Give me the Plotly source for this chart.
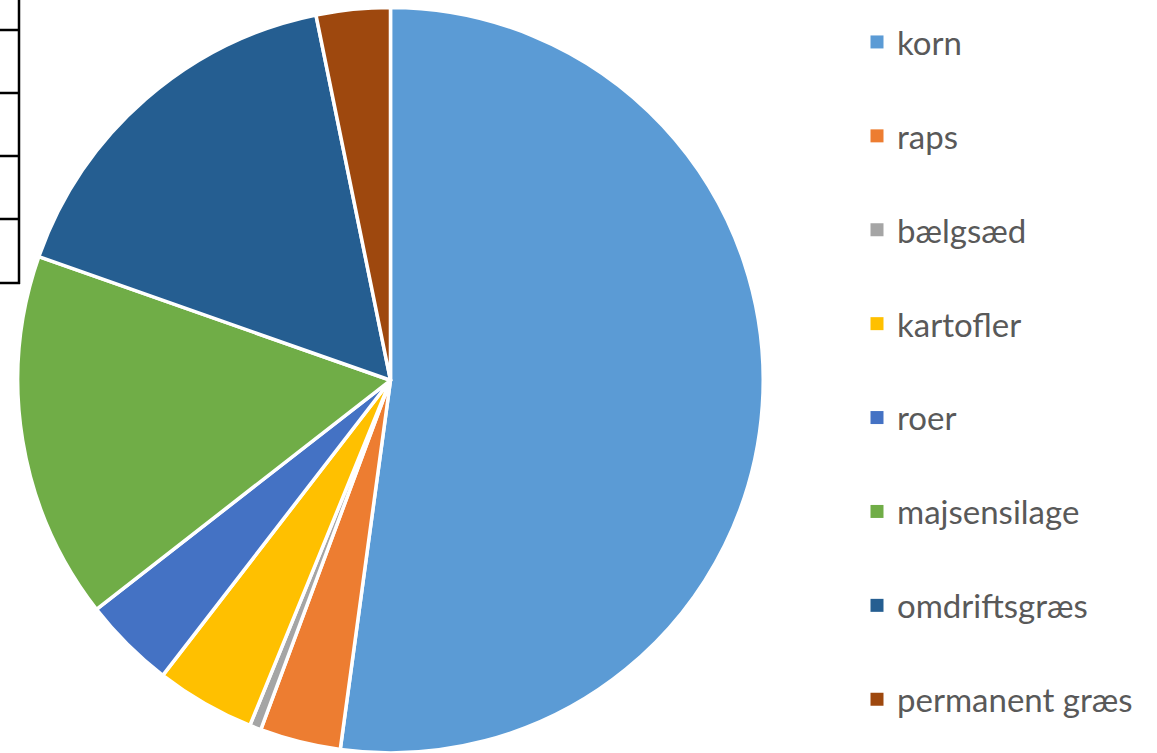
import plotly.graph_objects as go

# Share of cultivated area by crop (%)
crops = ["korn", "raps", "bælgsæd", "kartofler", "roer",
         "majsensilage", "omdriftsgræs", "permanent græs"]
shares = [52.1, 3.5, 0.5, 4.3, 4.0, 15.9, 16.4, 3.2]
colors = ["#5B9BD5", "#ED7D31", "#A5A5A5", "#FFC000", "#4472C4",
          "#70AD47", "#255E91", "#9E480E"]

# Row separators of the neighbouring table (pixel rows)
table_rows = [30, 93, 156, 219, 283]

W, H = 1157, 753

fig = go.Figure()

fig.add_trace(go.Pie(
    labels=crops,
    values=shares,
    sort=False,
    direction="clockwise",
    rotation=0,
    marker=dict(colors=colors, line=dict(color="white", width=3.5)),
    textinfo="none",
    hoverinfo="label+percent",
    showlegend=False,
    domain=dict(x=[0.0075, 0.6675], y=[0.0, 0.99]),
))

# Legend entries, one group each so the gap spreads them out
for i, (name, col) in enumerate(zip(crops, colors)):
    fig.add_trace(go.Scatter(
        x=[None], y=[None], mode="markers", name=name,
        legendgroup=f"g{i}",
        marker=dict(symbol="square", size=13, color=col, line=dict(width=0)),
        hoverinfo="skip",
    ))

shapes = [dict(type="line", xref="paper", yref="paper",
               x0=19 / W, x1=19 / W, y0=1, y1=1 - 284 / H,
               line=dict(color="black", width=2.5))]
for r in table_rows:
    shapes.append(dict(type="line", xref="paper", yref="paper",
                       x0=0, x1=20 / W, y0=1 - r / H, y1=1 - r / H,
                       line=dict(color="black", width=2.5)))

fig.update_layout(
    width=W, height=H,
    margin=dict(l=0, r=0, t=0, b=0),
    paper_bgcolor="white",
    plot_bgcolor="white",
    xaxis=dict(visible=False),
    yaxis=dict(visible=False),
    shapes=shapes,
    legend=dict(
        x=857 / W, xanchor="left",
        y=1 - 14 / H, yanchor="top",
        font=dict(family="Lato", size=33, color="#595959"),
        tracegroupgap=48,
        bgcolor="rgba(0,0,0,0)",
    ),
)

fig.write_html("out.html")
